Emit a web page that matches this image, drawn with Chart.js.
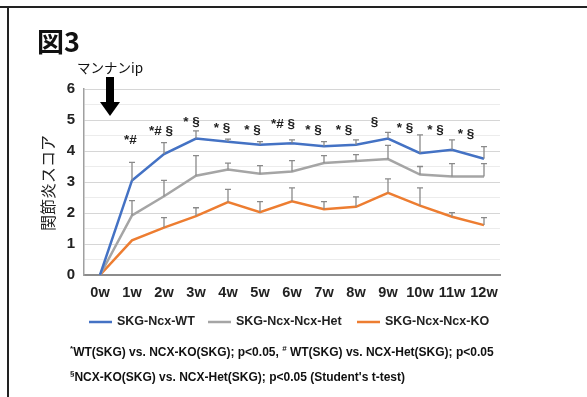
<!DOCTYPE html>
<html><head><meta charset="utf-8">
<script src="https://cdn.jsdelivr.net/npm/chart.js@4.4.0/dist/chart.umd.min.js"></script>
<style>
html,body{margin:0;padding:0;background:#fff;}
#wrap{position:relative;width:587px;height:397px;overflow:hidden;}
canvas{position:absolute;left:0;top:0;}
.txt{position:absolute;font-family:"Liberation Sans",Arial,sans-serif;font-weight:bold;color:#111;white-space:nowrap;}
</style></head><body>
<div id="wrap">
<canvas id="c" width="587" height="397"></canvas>
<div class="txt" style="left:37px;top:21px;font-size:27px;font-family:'Noto Sans CJK JP',sans-serif;font-weight:bold;">図3</div>
<div class="txt" style="left:77px;top:57px;font-size:13.5px;font-weight:normal;font-family:'Noto Sans CJK JP',sans-serif;">マンナンip</div>
<div class="txt" style="left:70px;top:344px;font-size:12px;"><sup style="font-size:8px">*</sup>WT(SKG) vs. NCX-KO(SKG); p&lt;0.05, <sup style="font-size:8px">#</sup> WT(SKG) vs. NCX-Het(SKG); p&lt;0.05</div>
<div class="txt" style="left:70px;top:369px;font-size:12px;"><sup style="font-size:8px">§</sup>NCX-KO(SKG) vs. NCX-Het(SKG); p&lt;0.05 (Student's t-test)</div>
</div>
<script>
const categories = ["0w","1w","2w","3w","4w","5w","6w","7w","8w","9w","10w","11w","12w"];
const seriesNames = ["SKG-Ncx-WT","SKG-Ncx-Ncx-Het","SKG-Ncx-Ncx-KO"];
const wtValues  = [0,3.05,3.9,4.4,4.3,4.2,4.25,4.15,4.2,4.4,3.93,4.04,3.75];
const hetValues = [0,1.92,2.54,3.2,3.4,3.27,3.34,3.61,3.68,3.74,3.24,3.18,3.18];
const koValues  = [0,1.12,1.53,1.9,2.35,2.03,2.38,2.12,2.2,2.65,2.24,1.88,1.61];
const wtUpper  = [null,3.63,4.27,4.65,4.38,4.3,4.36,4.3,4.36,4.6,4.52,4.36,4.14];
const hetUpper = [null,2.4,3.05,3.85,3.61,3.53,3.69,3.85,3.88,4.18,3.5,3.59,3.59];
const koUpper  = [null,null,1.85,2.17,2.76,2.37,2.81,2.37,2.52,3.1,2.81,2.01,1.85];
const sigLabels = ["","*#","*# §","* §","* §","* §","*# §","* §","* §","§","* §","* §","* §"];
const sigLevels = [null,4.33,4.62,4.94,4.73,4.66,4.86,4.66,4.66,4.92,4.73,4.68,4.54];
const yTickLabels = ["0","1","2","3","4","5","6"];
const colors = ["#4472C4","#A5A5A5","#ED7D31"];

const extras = {
  id:'extras',
  afterDatasetsDraw(chart){
    const ctx = chart.ctx, x = chart.scales.x, y = chart.scales.y;
    const uppers = [wtUpper, hetUpper, koUpper];
    const vals = [wtValues, hetValues, koValues];
    ctx.save();
    ctx.strokeStyle = '#8a8a8a'; ctx.lineWidth = 1.3;
    uppers.forEach((u,si)=>{
      u.forEach((v,i)=>{
        if(v==null) return;
        const px = x.getPixelForValue(i);
        const p0 = y.getPixelForValue(vals[si][i]), p1 = y.getPixelForValue(v);
        ctx.beginPath(); ctx.moveTo(px,p0); ctx.lineTo(px,p1);
        ctx.moveTo(px-3,p1); ctx.lineTo(px+3,p1); ctx.stroke();
      });
    });
    ctx.fillStyle = '#222'; ctx.font = 'bold 13.5px "Liberation Sans", Arial, sans-serif';
    ctx.textAlign = 'center'; ctx.textBaseline = 'middle';
    sigLabels.forEach((s,i)=>{
      if(!s) return;
      ctx.fillText(s, x.getPixelForValue(i) - 1.5*i, y.getPixelForValue(sigLevels[i]));
    });
    const ax = x.getPixelForValue(0) + 10;
    ctx.fillStyle = '#000';
    ctx.fillRect(ax-4, 77, 8, 26);
    ctx.beginPath(); ctx.moveTo(ax-10,102); ctx.lineTo(ax+10,102); ctx.lineTo(ax,116); ctx.closePath(); ctx.fill();
    ctx.save();
    ctx.translate(48, 183); ctx.rotate(-Math.PI/2);
    ctx.font = '16px "Noto Sans CJK JP", sans-serif'; ctx.fillStyle = '#222';
    ctx.fillText('関節炎スコア', 0, 0);
    ctx.restore();
    const lx = [89, 208, 357];
    ctx.font = 'bold 12.5px "Liberation Sans", Arial, sans-serif';
    ctx.textAlign = 'left';
    chart.data.datasets.forEach((d,i)=>{
      ctx.strokeStyle = d.borderColor; ctx.lineWidth = 2.5;
      ctx.beginPath(); ctx.moveTo(lx[i],322); ctx.lineTo(lx[i]+23,322); ctx.stroke();
      ctx.fillStyle = '#222';
      ctx.fillText(d.label, lx[i]+28, 322);
    });
    ctx.fillStyle = '#222';
    ctx.fillRect(0,6,587,2);
    ctx.fillRect(7,6,2,391);
    ctx.restore();
  }
};

new Chart(document.getElementById('c'), {
  type:'line',
  data:{
    labels: categories,
    datasets: [
      {label: seriesNames[0], data: wtValues, borderColor: colors[0]},
      {label: seriesNames[1], data: hetValues, borderColor: colors[1]},
      {label: seriesNames[2], data: koValues, borderColor: colors[2]}
    ].map(d=>Object.assign(d,{borderWidth:2.5,pointRadius:0,tension:0,fill:false}))
  },
  options:{
    responsive:false, animation:false,
    layout:{padding:{left:54,right:87,top:89,bottom:91}},
    plugins:{legend:{display:false},tooltip:{enabled:false}},
    scales:{
      x:{
        offset:true,
        afterFit(s){ s.height = 31; },
        grid:{display:false, drawTicks:false},
        border:{color:'#8c8c8c', width:2},
        ticks:{color:'#222', padding:9, maxRotation:0, minRotation:0, autoSkip:false,
          font:{family:'"Liberation Sans", Arial, sans-serif', weight:'bold', size:14.5}}
      },
      y:{
        min:0, max:6,
        afterFit(s){ s.width = 30; },
        grid:{drawTicks:false, color:(c)=> (c.tick && Number.isInteger(c.tick.value)) ? '#d6d6d6' : '#ececec', lineWidth:1},
        border:{color:'#a0a0a0', width:1.5},
        ticks:{stepSize:0.5, color:'#222', padding:9, autoSkip:false,
          callback:(v)=> Number.isInteger(v) ? yTickLabels[v] : '',
          font:{family:'"Liberation Sans", Arial, sans-serif', weight:'bold', size:15}}
      }
    }
  },
  plugins:[extras]
});
</script>
</body></html>
